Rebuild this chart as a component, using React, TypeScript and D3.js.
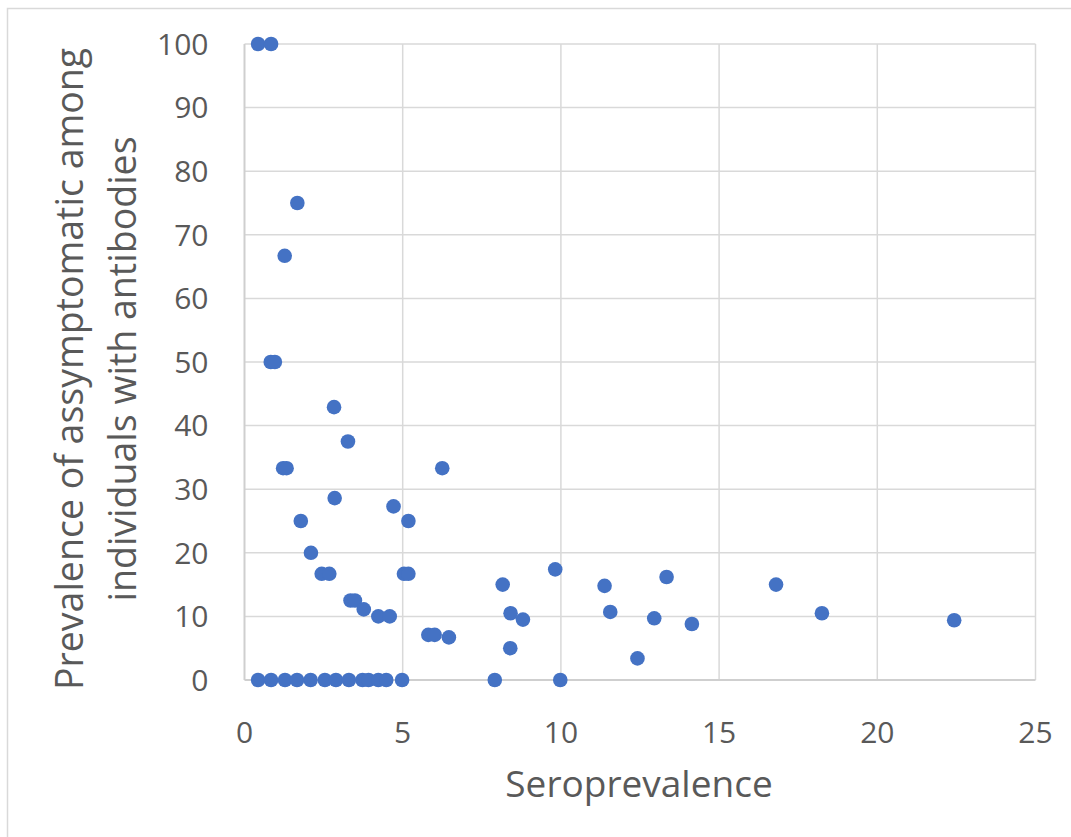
import React, { useEffect, useRef } from 'react';
import * as d3 from 'd3';

// Seroprevalence (%) vs prevalence of asymptomatic cases (%)
const seroprevalence = [
  0.43, 0.84, 1.67, 1.27, 0.83, 0.96, 2.83, 3.27, 1.22, 1.33, 6.25, 2.85, 4.71,
  5.18, 1.78, 2.1, 2.44, 2.68, 5.04, 5.18, 8.16, 3.35, 3.49, 3.77, 4.23, 4.59,
  8.41, 8.8, 5.81, 6.01, 6.46, 8.4, 9.82, 11.38, 13.34, 11.56, 12.95, 14.14,
  12.42, 16.8, 18.25, 22.43, 0.43, 0.84, 1.28, 1.66, 2.09, 2.54, 2.89, 3.3,
  3.73, 3.92, 4.23, 4.48, 4.98, 7.91, 9.98,
];
const asymptomatic = [
  100, 100, 75, 66.7, 50, 50, 42.9, 37.5, 33.3, 33.3, 33.3, 28.6, 27.3, 25, 25,
  20, 16.7, 16.7, 16.7, 16.7, 15, 12.5, 12.5, 11.1, 10, 10, 10.5, 9.5, 7.1, 7.1,
  6.7, 5, 17.4, 14.8, 16.2, 10.7, 9.7, 8.8, 3.4, 15, 10.5, 9.4, 0, 0, 0, 0, 0,
  0, 0, 0, 0, 0, 0, 0, 0, 0, 0,
];
const xTicks = [0, 5, 10, 15, 20, 25];
const yTicks = [0, 10, 20, 30, 40, 50, 60, 70, 80, 90, 100];

export default function App() {
  const ref = useRef<SVGSVGElement>(null);

  useEffect(() => {
    const svg = d3.select(ref.current);
    svg.selectAll('*').remove();

    const width = 1071;
    const height = 837;
    const margin = { top: 44, right: 35.5, bottom: 157, left: 244.5 };
    const font = "'Open Sans', 'Noto Sans', sans-serif";
    const textColor = '#595959';

    const x = d3
      .scaleLinear()
      .domain([0, 25])
      .range([margin.left, width - margin.right]);
    const y = d3
      .scaleLinear()
      .domain([0, 100])
      .range([height - margin.bottom, margin.top]);

    svg.append('rect').attr('width', width).attr('height', height).attr('fill', '#fff');

    // chart area border (top & left visible)
    svg
      .append('path')
      .attr('d', `M7.5,${height} V8.5 H${width}`)
      .attr('fill', 'none')
      .attr('stroke', '#d9d9d9')
      .attr('stroke-width', 1.5);

    // gridlines
    svg
      .append('g')
      .selectAll('line')
      .data(yTicks.filter((d) => d > 0))
      .join('line')
      .attr('x1', x(0))
      .attr('x2', x(25))
      .attr('y1', (d) => y(d))
      .attr('y2', (d) => y(d))
      .attr('stroke', '#d9d9d9')
      .attr('stroke-width', 1.5);

    svg
      .append('g')
      .selectAll('line')
      .data(xTicks.filter((d) => d > 0))
      .join('line')
      .attr('x1', (d) => x(d))
      .attr('x2', (d) => x(d))
      .attr('y1', y(0))
      .attr('y2', y(100))
      .attr('stroke', '#d9d9d9')
      .attr('stroke-width', 1.5);

    // axis lines
    svg
      .append('line')
      .attr('x1', x(0))
      .attr('x2', x(25))
      .attr('y1', y(0))
      .attr('y2', y(0))
      .attr('stroke', '#cfcfcf')
      .attr('stroke-width', 2);
    svg
      .append('line')
      .attr('x1', x(0))
      .attr('x2', x(0))
      .attr('y1', y(0))
      .attr('y2', y(100))
      .attr('stroke', '#cfcfcf')
      .attr('stroke-width', 2);

    // tick labels
    svg
      .append('g')
      .selectAll('text')
      .data(yTicks)
      .join('text')
      .attr('x', x(0) - 36)
      .attr('y', (d) => y(d))
      .attr('dy', '0.36em')
      .attr('text-anchor', 'end')
      .attr('font-family', font)
      .attr('font-size', 30)
      .attr('fill', textColor)
      .text((d) => d);

    svg
      .append('g')
      .selectAll('text')
      .data(xTicks)
      .join('text')
      .attr('x', (d) => x(d))
      .attr('y', 743)
      .attr('text-anchor', 'middle')
      .attr('font-family', font)
      .attr('font-size', 30)
      .attr('fill', textColor)
      .text((d) => d);

    // axis titles
    svg
      .append('text')
      .attr('x', 639)
      .attr('y', 797)
      .attr('text-anchor', 'middle')
      .attr('font-family', font)
      .attr('font-size', 37)
      .attr('fill', textColor)
      .text('Seroprevalence');

    const yTitle = ['Prevalence of assymptomatic among', 'individuals with antibodies'];
    svg
      .append('g')
      .selectAll('text')
      .data(yTitle)
      .join('text')
      .attr('transform', (_, i) => `translate(${83 + i * 53},369) rotate(-90)`)
      .attr('text-anchor', 'middle')
      .attr('font-family', font)
      .attr('font-size', 37.5)
      .attr('fill', textColor)
      .text((d) => d);

    // points
    svg
      .append('g')
      .selectAll('circle')
      .data(seroprevalence.map((s, i) => [s, asymptomatic[i]]))
      .join('circle')
      .attr('cx', (d) => x(d[0]))
      .attr('cy', (d) => y(d[1]))
      .attr('r', 7.3)
      .attr('fill', '#4472C4');
  }, []);

  return (
    <svg
      ref={ref}
      width={1071}
      height={837}
      style={{ position: 'absolute', left: 0, top: 0 }}
    />
  );
}
